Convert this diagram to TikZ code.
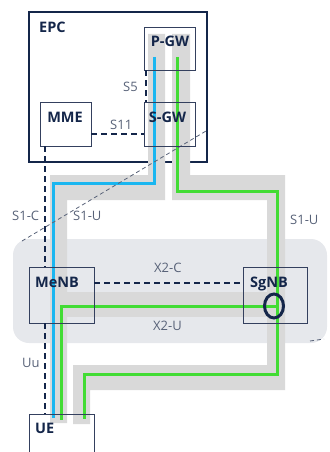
\documentclass[tikz,border=0pt]{standalone}
\usepackage{fontspec}
\setsansfont{Open Sans}
\usetikzlibrary{shapes.geometric}
\definecolor{epc_navy}{RGB}{20,38,74}
\definecolor{box_edge}{RGB}{52,64,94}
\definecolor{lbl_gray}{RGB}{88,98,120}
\definecolor{band_gray}{RGB}{217,217,217}
\definecolor{ran_gray}{RGB}{230,232,236}
\definecolor{cb_cyan}{RGB}{26,182,240}
\definecolor{cb_lime}{RGB}{66,220,52}
\tikzset{
    netbox/.style={draw=box_edge, line width=0.9pt, inner sep=0pt},
    boxname/.style={font=\sffamily\bfseries\fontsize{14.5}{16}\selectfont,
        text=epc_navy, inner sep=0pt},
    ifname/.style={font=\sffamily\fontsize{13}{15}\selectfont,
        text=lbl_gray, inner sep=0pt, anchor=base west},
    ctrl/.style={draw=epc_navy, line width=2pt, dash pattern=on 6pt off 4pt},
    userplane/.style={line width=3pt},
    hint/.style={draw=lbl_gray, line width=0.8pt, dash pattern=on 4pt off 3pt},
}

\begin{document}
\begin{tikzpicture}[x=1pt, y=-1pt]
    \useasboundingbox (0,0) rectangle (329,452);
    \clip (0,0) rectangle (329,452);
    % RAN area and core frame
    \fill[ran_gray, rounded corners=16pt] (13,239) rectangle (327,343);
    \node[draw=epc_navy, line width=2.6pt, inner sep=0pt,
        minimum width=178pt, minimum height=150pt] (epc) at (118,87) {};
    % user plane tunnels
    \fill[band_gray] (148,34) -- (165,34) -- (165,200) -- (67,200)
        -- (67,423) -- (50,423) -- (50,175) -- (148,175) -- cycle;
    \fill[band_gray] (172,34) -- (190,34) -- (190,175) -- (285,175)
        -- (285,390) -- (90,390) -- (90,424) -- (73,424) -- (73,365)
        -- (267,365) -- (267,200) -- (172,200) -- cycle;
    \fill[band_gray] (67,292) rectangle (267,317);
    \coordinate (split) at (276,306);
    \draw[userplane, cb_cyan] (154,57) -- (154,183) -- (53,183) -- (53,418);
    \draw[userplane, cb_lime] (177,57) -- (177,191) -- (277,191)
        -- (277,374) -- (84,374) -- (84,419);
    \draw[userplane, cb_lime] (split) -- (61,306) -- (61,420);
    \draw[hint] (22,241) -- (206,131);
    \draw[hint] (310,341) -- (324,339);
    % network elements
    \node[netbox, minimum width=51pt, minimum height=43pt] (pgw) at (169.5,48.5) {};
    \node[netbox, minimum width=51pt, minimum height=44pt] (sgw) at (169.5,124) {};
    \node[netbox, minimum width=51pt, minimum height=44pt] (mme) at (65.5,124) {};
    \node[netbox, minimum width=65pt, minimum height=56pt] (menb) at (61.5,295) {};
    \node[netbox, minimum width=64pt, minimum height=56pt] (sgnb) at (275,295) {};
    \node[netbox, minimum width=65pt, minimum height=60pt] (ue) at (61.5,444) {};
    \node[boxname, anchor=base west] (epcname) at (39,33) {EPC};
    \node[boxname, anchor=base] (pgwname) at (170,47) {P-GW};
    \node[boxname, anchor=base] (sgwname) at (167.5,122) {S-GW};
    \node[boxname, anchor=base] (mmename) at (65,122) {MME};
    \node[boxname, anchor=base west] (menbname) at (35,287) {MeNB};
    \node[boxname, anchor=base west] (sgnbname) at (250,287) {SgNB};
    \node[boxname, anchor=base west] (uename) at (35,433) {UE};
    % control plane
    \draw[ctrl] ([xshift=2pt]pgw.south west) -- ([xshift=2pt]sgw.north west);
    \draw[ctrl] ([yshift=-10pt]mme.east) -- ([yshift=-10pt]sgw.west);
    \draw[ctrl] ([xshift=5pt]mme.south west) coordinate (s1c) -- (s1c |- menb.north);
    \draw[ctrl] (s1c |- menb.south) -- (s1c |- ue.north);
    \draw[ctrl] ([yshift=12pt]menb.east) -- ([yshift=12pt]sgnb.west);
    \node[ellipse, draw=epc_navy, line width=3pt, inner sep=0pt,
        minimum width=19pt, minimum height=24pt] (splitmark) at (274,306) {};
    % interface labels
    \node[ifname] (s5) at (123,92) {S5};
    \node[ifname] (s11) at (110,129) {S11};
    \node[ifname] (s1c) at (12,220) {S1-C};
    \node[ifname] (s1um) at (73,220) {S1-U};
    \node[ifname] (s1us) at (290,224) {S1-U};
    \node[ifname] (x2c) at (154,272) {X2-C};
    \node[ifname] (x2u) at (153,330) {X2-U};
    \node[ifname] (uu) at (22,367) {Uu};
\end{tikzpicture}
\end{document}
